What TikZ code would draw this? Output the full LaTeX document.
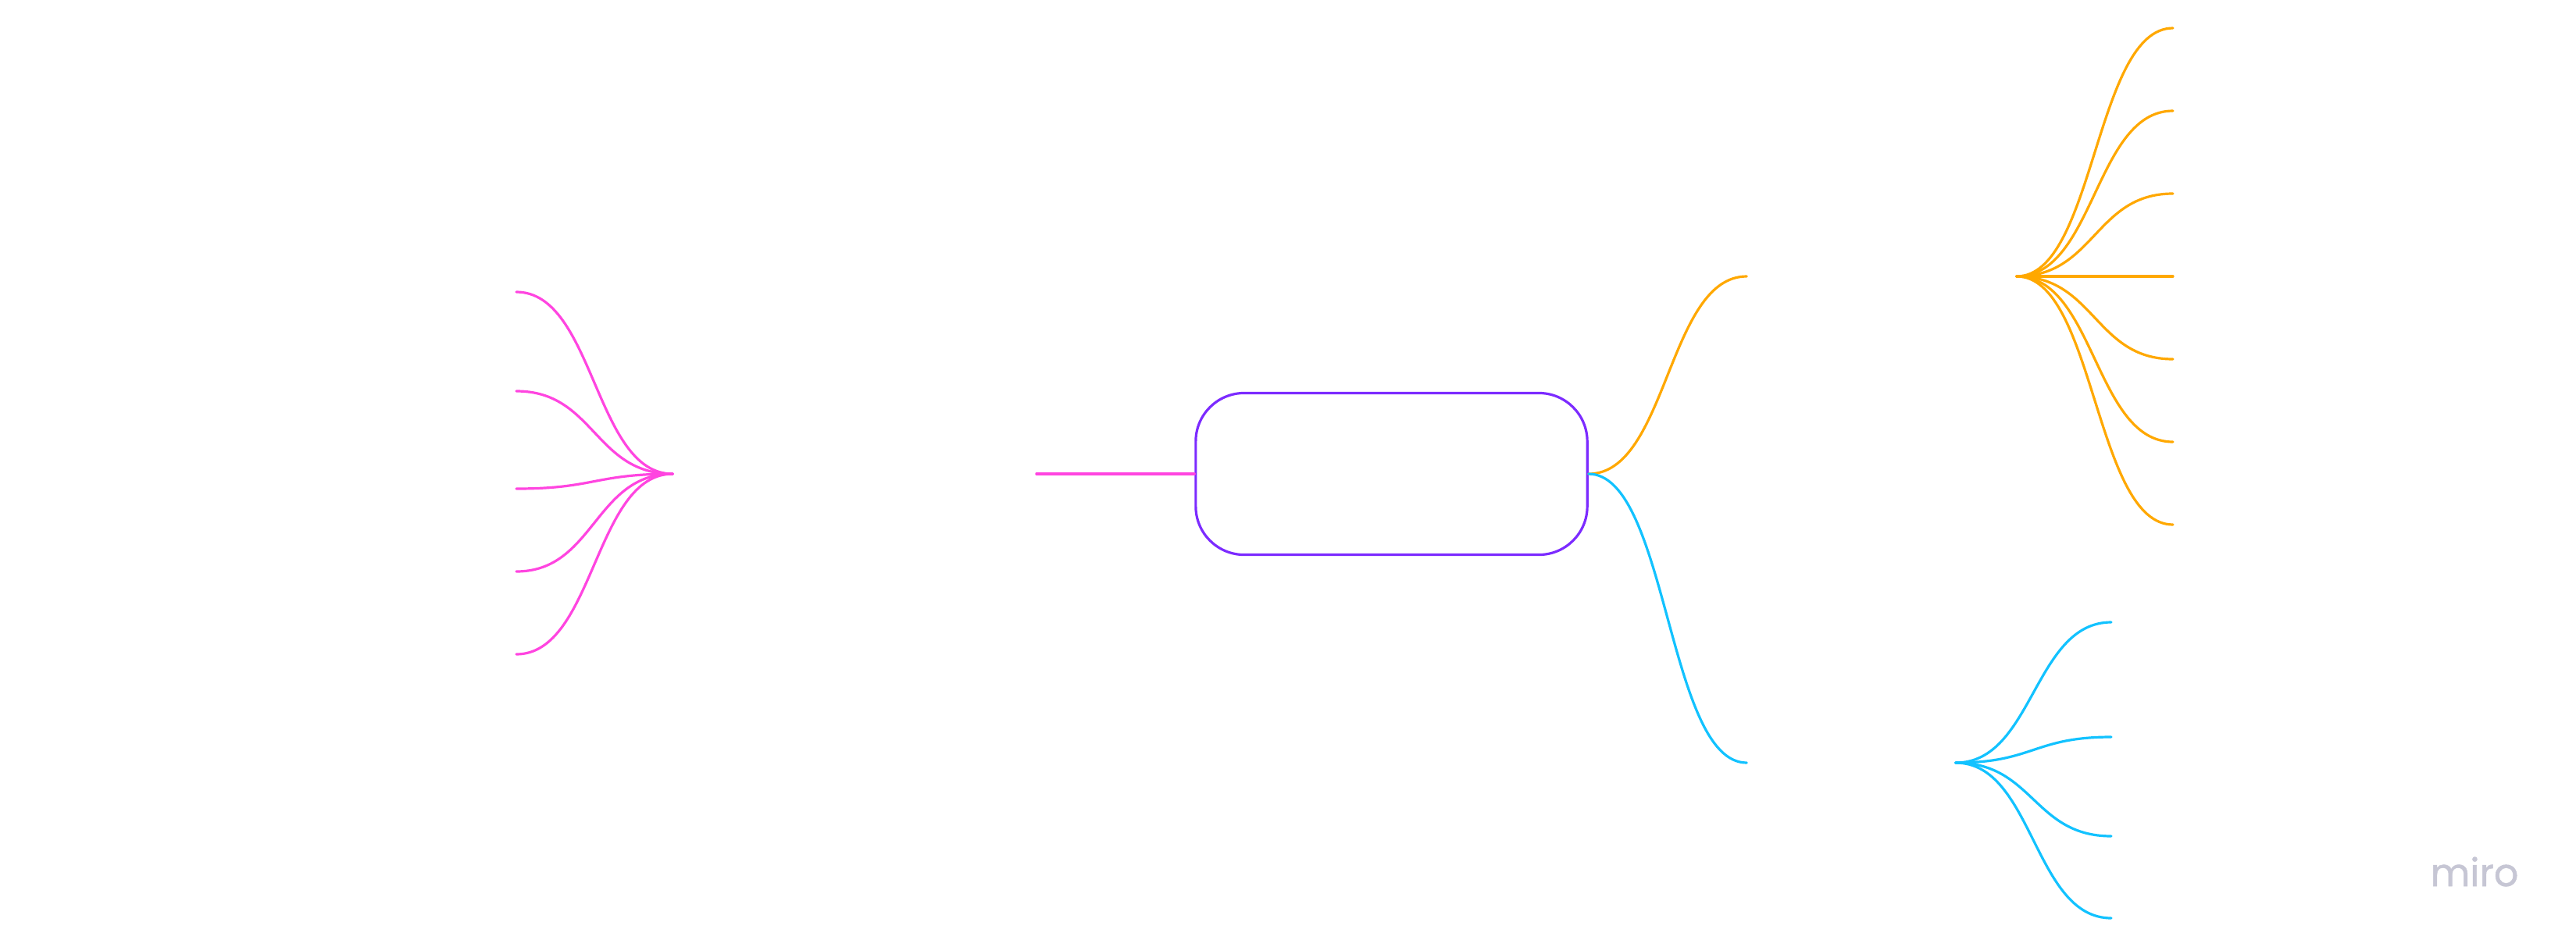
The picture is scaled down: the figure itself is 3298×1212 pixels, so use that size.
\documentclass[tikz,border=0pt]{standalone}
\usepackage{fontspec}
\newfontfamily\logofont[FakeBold=1]{Poppins}
\usetikzlibrary{calc}
\definecolor{rootpurple}{HTML}{7C2BFF}
\definecolor{pinkbranch}{HTML}{FF45E0}
\definecolor{orangebranch}{HTML}{FFA800}
\definecolor{cyanbranch}{HTML}{12C2FF}
\definecolor{logogrey}{HTML}{C6C6D4}
\tikzset{
  root/.style={draw=rootpurple, line width=0.032cm, rounded corners=0.62cm,
    minimum width=5.01cm, minimum height=2.07cm, inner sep=0pt},
  topic/.style={inner sep=0pt, minimum height=0.3cm},
  branch/.style={line width=0.032cm, line cap=round,
    to path={let \p1=(\tikztostart), \p2=(\tikztotarget) in
      .. controls ({0.5*\x1+0.5*\x2},\y1) and ({0.5*\x1+0.5*\x2},\y2) .. (\tikztotarget)}},
  logo/.style={text=logogrey, font=\logofont\fontsize{14}{14}\selectfont, inner sep=0pt}
}
\begin{document}
\begin{tikzpicture}[x=0.01cm, y=-0.01cm]
      \useasboundingbox (0,0) rectangle (3298,1212);
      \node[root] (root) at (1781.5,607) {};
      \node[topic, minimum width=4.64cm] (pink) at (1094,607) {};
      \node[topic, minimum width=3.44cm] (orange) at (2409,354) {};
      \node[topic, minimum width=2.66cm] (cyan) at (2370,977) {};
      \draw
        (661,374) coordinate (p1)
        (661,501) coordinate (p2)
        (661,626) coordinate (p3)
        (661,732) coordinate (p4)
        (661,838) coordinate (p5)
        (2782,36) coordinate (o1)
        (2782,142) coordinate (o2)
        (2782,248) coordinate (o3)
        (2782,354) coordinate (o4)
        (2782,460) coordinate (o5)
        (2782,566) coordinate (o6)
        (2782,672) coordinate (o7)
        (2703,797) coordinate (c1)
        (2703,944) coordinate (c2)
        (2703,1071) coordinate (c3)
        (2703,1176) coordinate (c4);
      \begin{scope}[branch, pinkbranch]
        \draw (root.west) -- (pink.east);
        \draw (pink.west) to (p1);
        \draw (pink.west) to (p2);
        \draw (pink.west) to (p3);
        \draw (pink.west) to (p4);
        \draw (pink.west) to (p5);
      \end{scope}
      \begin{scope}[branch, orangebranch]
        \draw (root.east) to (orange.west);
        \draw (orange.east) to (o1);
        \draw (orange.east) to (o2);
        \draw (orange.east) to (o3);
        \draw (orange.east) to (o4);
        \draw (orange.east) to (o5);
        \draw (orange.east) to (o6);
        \draw (orange.east) to (o7);
      \end{scope}
      \begin{scope}[branch, cyanbranch]
        \draw (root.east) to (cyan.west);
        \draw (cyan.east) to (c1);
        \draw (cyan.east) to (c2);
        \draw (cyan.east) to (c3);
        \draw (cyan.east) to (c4);
      \end{scope}
      \node[logo, anchor=base] (miro) at (3168,1135) {miro};
    \end{tikzpicture}
\end{document}
